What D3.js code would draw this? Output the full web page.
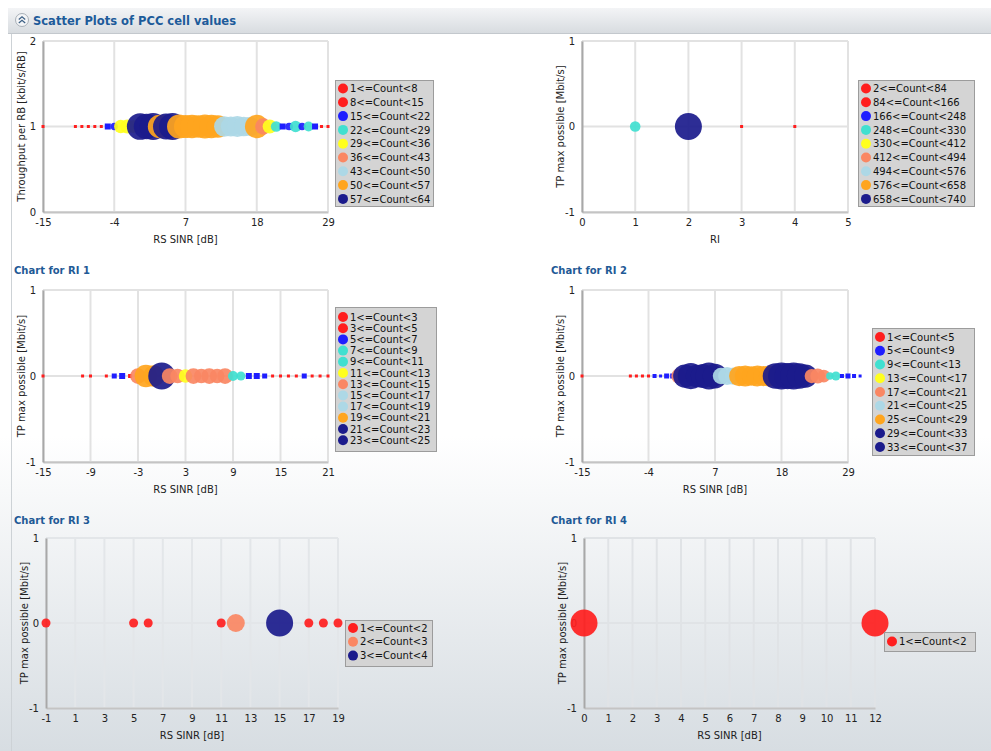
<!DOCTYPE html>
<html>
<head>
<meta charset="utf-8">
<script src="https://cdn.jsdelivr.net/npm/d3@7"></script>
<style>
  body { margin: 0; background: #fff; }
  svg { display: block; font-family: "DejaVu Sans", Verdana, sans-serif; }
</style>
</head>
<body>
<svg id="page" width="991" height="751"></svg>
<script>
// ---- data ----

// top left: throughput per RB vs RS SINR
const c1Sinr = [-15, -10, -9, -8, -7, -6, -5, -4, -3, -2, -1, 0, 1, 2, 3, 4, 5,
  6, 7, 8, 9, 10, 11, 12, 13, 14, 15, 16, 17, 18, 19, 20, 21, 22, 23, 24, 25, 26, 27, 28, 29];
const c1Count = [2, 3, 4, 5, 6, 9, 16, 17, 31, 33, 30, 62, 60, 63, 55, 61, 63,
  56, 54, 55, 53, 56, 55, 52, 48, 47, 49, 46, 45, 55, 38, 33, 25, 16, 18, 27, 17, 23, 16, 5, 3];
const c1Bins = [1, 8, 15, 22, 29, 36, 43, 50, 57, 64];
const c1XTicks = [-15, -4, 7, 18, 29];
const c1YTicks = [0, 1, 2];

// top right: TP max possible vs RI
const c2Ri = [1, 2, 3, 4];
const c2Count = [290, 738, 4, 3];
const c2Bins = [2, 84, 166, 248, 330, 412, 494, 576, 658, 740];
const c2XTicks = [0, 1, 2, 3, 4, 5];

// RI 1
const c3Sinr = [-15, -10, -9, -7, -6, -5, -4, -3, -2, -1, 0, 1, 2, 3, 4, 5, 6, 7, 8, 9, 10,
  11, 12, 13, 14, 15, 16, 17, 18, 19, 20, 21];
const c3Count = [1, 2, 2, 3, 5, 6, 4, 14, 20, 19, 24, 14, 13, 12, 14, 13, 14, 13, 14, 9, 8,
  6, 6, 5, 2, 1, 2, 1, 5, 2, 1, 2];
const c3Bins = [1, 3, 5, 7, 9, 11, 13, 15, 17, 19, 21, 23, 25];
const c3XTicks = [-15, -9, -3, 3, 9, 15, 21];

// RI 2
const c4Sinr = [-15, -7, -6, -5, -4, -3, -2, -1, 0, 1, 2, 3, 4, 5, 6, 7, 8, 9, 10, 11, 12,
  13, 14, 15, 16, 17, 18, 19, 20, 21, 22, 23, 24, 25, 26, 27, 28, 29, 30, 31];
const c4Count = [1, 2, 3, 2, 4, 6, 5, 7, 8, 20, 31, 35, 30, 32, 36, 33, 22, 24, 23, 27, 28,
  26, 28, 27, 28, 34, 36, 35, 36, 34, 31, 19, 20, 17, 10, 12, 6, 7, 6, 5];
const c4Bins = [1, 5, 9, 13, 17, 21, 25, 29, 33, 37];
const c4XTicks = [-15, -4, 7, 18, 29];

// RI 3
const c5Sinr = [-1, 5, 6, 11, 12, 15, 17, 18, 19];
const c5Count = [1, 1, 1, 1, 2, 3, 1, 1, 1];
const c5Bins = [1, 2, 3, 4];
const c5XTicks = [-1, 1, 3, 5, 7, 9, 11, 13, 15, 17, 19];

// RI 4
const c6Sinr = [0, 12];
const c6Count = [1, 1];
const c6Bins = [1, 2];
const c6XTicks = [0, 1, 2, 3, 4, 5, 6, 7, 8, 9, 10, 11, 12];

const tpYTicks = [-1, 0, 1];

// ---- colours ----
const RED = "#ff1e1e", BLUE = "#1e1eff", TEAL = "#40e0d0", YELLOW = "#ffff1e",
  SALMON = "#fa8763", LIGHTBLUE = "#add8e6", ORANGE = "#ffa51e", NAVY = "#1b1b8c";

const svg = d3.select("#page");

// page background, white fading to grey towards the bottom
const defs = svg.append("defs");
const bg = defs.append("linearGradient").attr("id", "bg").attr("x1", 0).attr("x2", 0).attr("y1", 0).attr("y2", 1);
bg.append("stop").attr("offset", "0%").attr("stop-color", "#ffffff");
bg.append("stop").attr("offset", "58%").attr("stop-color", "#ffffff");
bg.append("stop").attr("offset", "100%").attr("stop-color", "#d7dde2");
const hd = defs.append("linearGradient").attr("id", "hd").attr("x1", 0).attr("x2", 0).attr("y1", 0).attr("y2", 1);
hd.append("stop").attr("offset", "0%").attr("stop-color", "#f3f4f6");
hd.append("stop").attr("offset", "100%").attr("stop-color", "#d8dce0");

svg.append("rect").attr("x", 0).attr("y", 0).attr("width", 991).attr("height", 751).attr("fill", "url(#bg)");
svg.append("line").attr("x1", 11.5).attr("x2", 11.5).attr("y1", 33).attr("y2", 751)
  .attr("stroke", "#cdd2d6");

// header bar
svg.append("rect").attr("x", 8).attr("y", 8).attr("width", 983).attr("height", 25)
  .attr("fill", "url(#hd)");
svg.append("line").attr("x1", 8).attr("x2", 991).attr("y1", 33.5).attr("y2", 33.5).attr("stroke", "#c3c8cd");
svg.append("circle").attr("cx", 22).attr("cy", 20).attr("r", 6.5)
  .attr("fill", "#f4f5f7").attr("stroke", "#a9b0b8");
svg.append("path").attr("d", "M18.8,19.5 L22,16.8 L25.2,19.5 M18.8,23 L22,20.3 L25.2,23")
  .attr("fill", "none").attr("stroke", "#3f6286").attr("stroke-width", 1.3);
svg.append("text").attr("x", 33).attr("y", 24.5)
  .attr("font-size", 13).attr("font-weight", "bold").attr("fill", "#1d5b9a")
  .attr("textLength", 203).attr("lengthAdjust", "spacingAndGlyphs")
  .text("Scatter Plots of PCC cell values");

// chart titles
[["Chart for RI 1", 14, 274], ["Chart for RI 2", 551, 274],
 ["Chart for RI 3", 14, 524], ["Chart for RI 4", 551, 524]].forEach(t => {
  svg.append("text").attr("x", t[1]).attr("y", t[2])
    .attr("font-size", 10).attr("font-weight", "bold").attr("fill", "#1f5a96").text(t[0]);
});

function drawChart(o) {
  const g = svg.append("g");
  const x = d3.scaleLinear().domain(o.xDomain).range([o.left, o.right]);
  const y = d3.scaleLinear().domain(o.yDomain).range([o.bottom, o.top]);
  const r = d3.scaleLinear().domain([0, d3.max(o.counts)]).range([0, 13.5]);
  const color = d3.scaleThreshold().domain(o.bins.slice(1, -1)).range(o.colors);

  // grid
  g.selectAll(".vg").data(o.xTicks).enter().append("line")
    .attr("x1", d => x(d)).attr("x2", d => x(d))
    .attr("y1", o.top).attr("y2", o.bottom)
    .attr("stroke", o.gridColor).attr("stroke-width", 2);
  g.selectAll(".hg").data(o.yTicks).enter().append("line")
    .attr("x1", o.left).attr("x2", o.right)
    .attr("y1", d => y(d)).attr("y2", d => y(d))
    .attr("stroke", o.gridColor).attr("stroke-width", 2);

  // axes (plain hyphen for negatives, as in the original)
  const fmt = d => String(d);
  const xAxis = g.append("g").attr("transform", `translate(0,${o.bottom})`)
    .call(d3.axisBottom(x).tickValues(o.xTicks).tickFormat(fmt).tickSize(0).tickPadding(7));
  xAxis.select(".domain").attr("stroke", "#c4c4c4").attr("stroke-width", 2);
  const yAxis = g.append("g").attr("transform", `translate(${o.left},0)`)
    .call(d3.axisLeft(y).tickValues(o.yTicks).tickFormat(fmt).tickSize(0).tickPadding(7));
  yAxis.select(".domain").attr("stroke", "#a8a8a8").attr("stroke-width", 2);
  g.selectAll(".tick text").attr("font-size", 10).attr("fill", "#222")
    .attr("font-family", "DejaVu Sans, Verdana, sans-serif");

  g.append("text").attr("x", (o.left + o.right) / 2).attr("y", o.bottom + 31)
    .attr("text-anchor", "middle").attr("font-size", 10).attr("fill", "#222").text(o.xTitle);
  g.append("text").attr("transform", `translate(${o.left - 18},${(o.top + o.bottom) / 2}) rotate(-90)`)
    .attr("text-anchor", "middle").attr("font-size", 10).attr("fill", "#222").text(o.yTitle);

  // points: tiny ones are drawn as squares, the rest as circles
  const pts = o.xs.map((v, i) => ({ x: v, y: o.yValue, c: o.counts[i] }));
  pts.forEach(p => {
    const rad = r(p.c);
    if (rad < 3.5) {
      const s = Math.max(3, Math.round(rad * 1.8));
      g.append("rect").attr("x", x(p.x) - s / 2).attr("y", y(p.y) - s / 2)
        .attr("width", s).attr("height", s).attr("fill", color(p.c));
    } else {
      g.append("circle").attr("cx", x(p.x)).attr("cy", y(p.y)).attr("r", rad)
        .attr("fill", color(p.c)).attr("fill-opacity", 0.92);
    }
  });

  // legend
  const L = o.legend;
  const labels = o.bins.slice(0, -1).map((b, i) => `${b}<=Count<${o.bins[i + 1]}`);
  g.append("rect").attr("x", L.x + 0.5).attr("y", L.y + 0.5).attr("width", L.w).attr("height", L.h)
    .attr("fill", "#d4d4d4").attr("stroke", "#9c9c9c");
  labels.forEach((lab, i) => {
    const cy = L.first + i * L.step;
    g.append("circle").attr("cx", L.x + 8).attr("cy", cy).attr("r", 5).attr("fill", o.colors[i]);
    g.append("text").attr("x", L.x + 15).attr("y", cy + 3.6)
      .attr("font-size", 10).attr("fill", "#111").text(lab);
  });
}

const grid = "#e2e2e2";

drawChart({
  xs: c1Sinr, counts: c1Count, yValue: 1, bins: c1Bins,
  colors: [RED, RED, BLUE, TEAL, YELLOW, SALMON, LIGHTBLUE, ORANGE, NAVY],
  xDomain: [-15, 29], yDomain: [0, 2], xTicks: c1XTicks, yTicks: c1YTicks,
  left: 43, right: 328, top: 41, bottom: 212, gridColor: grid,
  xTitle: "RS SINR [dB]", yTitle: "Throughput per RB [kbit/s/RB]",
  legend: { x: 335, y: 80, w: 98, h: 126, first: 88.5, step: 13.8 }
});

drawChart({
  xs: c2Ri, counts: c2Count, yValue: 0, bins: c2Bins,
  colors: [RED, RED, BLUE, TEAL, YELLOW, SALMON, LIGHTBLUE, ORANGE, NAVY],
  xDomain: [0, 5], yDomain: [-1, 1], xTicks: c2XTicks, yTicks: tpYTicks,
  left: 582, right: 848, top: 41, bottom: 212, gridColor: grid,
  xTitle: "RI", yTitle: "TP max possible [Mbit/s]",
  legend: { x: 858, y: 80, w: 116, h: 126, first: 88.5, step: 13.8 }
});

drawChart({
  xs: c3Sinr, counts: c3Count, yValue: 0, bins: c3Bins,
  colors: [RED, RED, BLUE, TEAL, TEAL, YELLOW, SALMON, LIGHTBLUE, LIGHTBLUE, ORANGE, NAVY, NAVY],
  xDomain: [-15, 21], yDomain: [-1, 1], xTicks: c3XTicks, yTicks: tpYTicks,
  left: 43, right: 328, top: 290, bottom: 462, gridColor: grid,
  xTitle: "RS SINR [dB]", yTitle: "TP max possible [Mbit/s]",
  legend: { x: 335, y: 307, w: 101, h: 144, first: 317, step: 11.2 }
});

drawChart({
  xs: c4Sinr, counts: c4Count, yValue: 0, bins: c4Bins,
  colors: [RED, BLUE, TEAL, YELLOW, SALMON, LIGHTBLUE, ORANGE, NAVY, NAVY],
  xDomain: [-15, 29], yDomain: [-1, 1], xTicks: c4XTicks, yTicks: tpYTicks,
  left: 582, right: 848, top: 290, bottom: 462, gridColor: grid,
  xTitle: "RS SINR [dB]", yTitle: "TP max possible [Mbit/s]",
  legend: { x: 872, y: 328, w: 102, h: 127, first: 337, step: 13.75 }
});

drawChart({
  xs: c5Sinr, counts: c5Count, yValue: 0, bins: c5Bins,
  colors: [RED, SALMON, NAVY],
  xDomain: [-1, 19], yDomain: [-1, 1], xTicks: c5XTicks, yTicks: tpYTicks,
  left: 46, right: 338, top: 538, bottom: 708, gridColor: "#e3e6e9",
  xTitle: "RS SINR [dB]", yTitle: "TP max possible [Mbit/s]",
  legend: { x: 345, y: 620, w: 87, h: 46, first: 628, step: 13.8 }
});

drawChart({
  xs: c6Sinr, counts: c6Count, yValue: 0, bins: c6Bins,
  colors: [RED],
  xDomain: [0, 12], yDomain: [-1, 1], xTicks: c6XTicks, yTicks: tpYTicks,
  left: 584, right: 875, top: 538, bottom: 708, gridColor: "#e0e3e6",
  xTitle: "RS SINR [dB]", yTitle: "TP max possible [Mbit/s]",
  legend: { x: 884, y: 632, w: 91, h: 19, first: 641.5, step: 13.8 }
});
</script>
</body>
</html>
